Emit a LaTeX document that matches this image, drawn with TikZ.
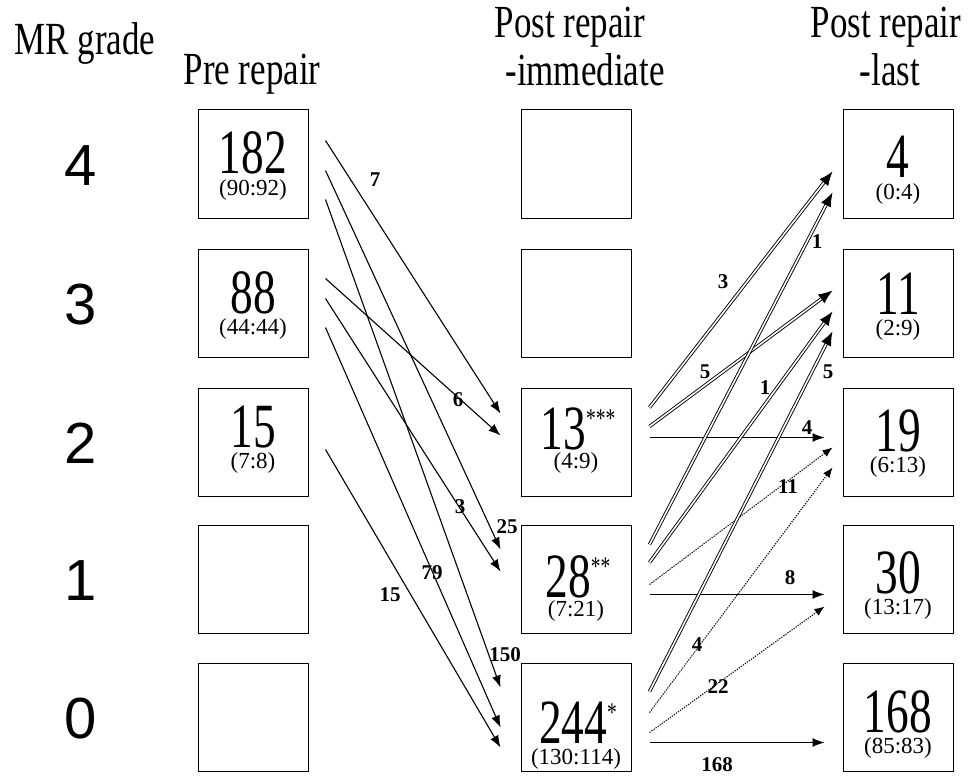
\documentclass[tikz,border=0pt]{standalone}
\usepackage{fontspec}
\setmainfont{Liberation Serif}
\newfontfamily\hdrfont[FakeStretch=0.76]{Liberation Serif}
\newfontfamily\numfont[FakeStretch=0.72]{Liberation Serif}
\newfontfamily\gradefont{Liberation Sans}
\usetikzlibrary{arrows.meta,calc}
\tikzset{
  box/.style={draw, line width=1pt, minimum width=110pt, minimum height=108pt, inner sep=0pt},
  hdr/.style={anchor=base, inner sep=0pt, font=\hdrfont\fontsize{46}{46}\selectfont},
  grade/.style={anchor=base, inner sep=0pt, font=\gradefont\fontsize{58}{58}\selectfont},
  bignum/.style={anchor=base, inner sep=0pt, font=\numfont\fontsize{63}{63}\selectfont},
  subnum/.style={anchor=base, inner sep=0pt, font=\fontsize{23}{23}\selectfont},
  lbl/.style={inner sep=0pt, font=\bfseries\fontsize{21}{21}\selectfont},
  single/.style={line width=1.1pt, -{Latex[length=12pt,width=9pt]}},
  dbl/.style={double, double distance=1.6pt, line width=0.9pt, -{Latex[length=14pt,width=11pt]}},
  dots/.style={line width=1pt, dash pattern=on 1.3pt off 1.2pt, -{Latex[length=10pt,width=8pt]}},
  flat/.style={line width=1.2pt, -{Latex[length=12pt,width=9pt]}}
}
\newcommand{\stars}[1]{\raisebox{22pt}{\fontsize{27}{27}\selectfont #1}}
\begin{document}
\begin{tikzpicture}[x=1pt,y=-1pt]
\useasboundingbox (0,0) rectangle (973,778);
% headers
\node[hdr] (hMR) at (85,55) {MR grade};
\node[hdr] (hPre) at (252,85) {Pre repair};
\node[hdr] (hPI1) at (570,38) {Post repair};
\node[hdr] (hPI2) at (585,86) {-immediate};
\node[hdr] (hPL1) at (886,38) {Post repair};
\node[hdr] (hPL2) at (890,86) {-last};
% grades
\node[grade] (g4) at (81,185) {4};
\node[grade] (g3) at (81,324) {3};
\node[grade] (g2) at (81,463) {2};
\node[grade] (g1) at (81,600) {1};
\node[grade] (g0) at (81,738) {0};
% boxes
\node[box] (p4) at (253,164) {};
\node[box] (p3) at (253,303) {};
\node[box] (p2) at (253,442) {};
\node[box] (p1) at (253,579) {};
\node[box] (p0) at (253,717) {};
\node[box] (i4) at (576,164) {};
\node[box] (i3) at (576,303) {};
\node[box] (i2) at (576,442) {};
\node[box] (i1) at (576,579) {};
\node[box] (i0) at (576,717) {};
\node[box] (l4) at (898,164) {};
\node[box] (l3) at (898,303) {};
\node[box] (l2) at (898,442) {};
\node[box] (l1) at (898,579) {};
\node[box] (l0) at (898,717) {};
% box contents
\node[bignum] (n182) at (253,174) {182};
\node[subnum] (s182) at (253,195) {(90:92)};
\node[bignum] (n88) at (253,313) {88};
\node[subnum] (s88) at (253,334) {(44:44)};
\node[bignum] (n15) at (253,447) {15};
\node[subnum] (s15) at (253,468) {(7:8)};
\node[bignum] (n13) at (578,449) {13\stars{***}};
\node[subnum] (s13) at (576,468) {(4:9)};
\node[bignum] (n28) at (578,597) {28\stars{**}};
\node[subnum] (s28) at (576,616) {(7:21)};
\node[bignum] (n244) at (578,743) {244\stars{*}};
\node[subnum] (s244) at (576,764) {(130:114)};
\node[bignum] (n4) at (898,178) {4};
\node[subnum] (s4) at (898,199) {(0:4)};
\node[bignum] (n11) at (898,314) {11};
\node[subnum] (s11) at (898,335) {(2:9)};
\node[bignum] (n19) at (898,451) {19};
\node[subnum] (s19) at (898,472) {(6:13)};
\node[bignum] (n30) at (898,593) {30};
\node[subnum] (s30) at (898,614) {(13:17)};
\node[bignum] (n168) at (898,732) {168};
\node[subnum] (s168) at (898,753) {(85:83)};
% left connectors
\draw[single] ([shift={(17,31)}]p4.north east) -- ([shift={(-20,26)}]i2.north west);
\draw[single] ([shift={(17,61)}]p4.north east) -- ([shift={(-20,25)}]i1.north west);
\draw[single] ([shift={(17,90)}]p4.north east) -- ([shift={(-20,25)}]i0.north west);
\draw[single] ([shift={(17,30)}]p3.north east) -- ([shift={(-20,48)}]i2.north west);
\draw[single] ([shift={(17,50)}]p3.north east) -- ([shift={(-20,47)}]i1.north west);
\draw[single] ([shift={(17,79)}]p3.north east) -- ([shift={(-20,65)}]i0.north west);
\draw[single] ([shift={(17,62)}]p2.north east) -- ([shift={(-20,85)}]i0.north west);
% left labels
\node[lbl] (a7) at (375,180) {7};
\node[lbl] (a6) at (458,400) {6};
\node[lbl] (a25) at (507,527) {25};
\node[lbl] (a3) at (460,507) {3};
\node[lbl] (a150) at (505,655) {150};
\node[lbl] (a79) at (432,573) {79};
\node[lbl] (a15) at (390,595) {15};
% right connectors
\draw[dbl] ([shift={(18,20)}]i2.north east) -- ([shift={(-10,62)}]l4.north west);
\draw[dbl] ([shift={(18,39)}]i2.north east) -- ([shift={(-10,42)}]l3.north west);
\draw[flat] ([shift={(18,50)}]i2.north east) -- ([shift={(-18,50)}]l2.north west);
\draw[dbl] ([shift={(18,20)}]i1.north east) -- ([shift={(-10,83)}]l4.north west);
\draw[dbl] ([shift={(18,38)}]i1.north east) -- ([shift={(-10,63)}]l3.north west);
\draw[dots] ([shift={(18,60)}]i1.north east) -- ([shift={(-10,60)}]l2.north west);
\draw[flat] ([shift={(18,70)}]i1.north east) -- ([shift={(-18,70)}]l1.north west);
\draw[dbl] ([shift={(18,29)}]i0.north east) -- ([shift={(-10,83)}]l3.north west);
\draw[dots] ([shift={(18,50)}]i0.north east) -- ([shift={(-10,80)}]l2.north west);
\draw[dots] ([shift={(18,70)}]i0.north east) -- ([shift={(-18,82)}]l1.north west);
\draw[flat] ([shift={(18,80)}]i0.north east) -- ([shift={(-18,80)}]l0.north west);
% right labels
\node[lbl] (b3) at (723,282) {3};
\node[lbl] (b1a) at (817,242) {1};
\node[lbl] (b5a) at (705,372) {5};
\node[lbl] (b1b) at (765,388) {1};
\node[lbl] (b5b) at (828,372) {5};
\node[lbl] (b4a) at (807,428) {4};
\node[lbl] (b11) at (788,487) {11};
\node[lbl] (b8) at (790,578) {8};
\node[lbl] (b4b) at (697,645) {4};
\node[lbl] (b22) at (718,687) {22};
\node[lbl] (b168) at (717,765) {168};
\end{tikzpicture}
\end{document}
